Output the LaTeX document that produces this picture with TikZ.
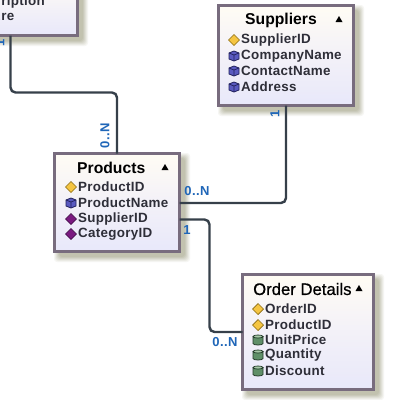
\documentclass[tikz,border=0pt]{standalone}
\usepackage{fontspec}
\setmainfont{Liberation Sans}
\newfontfamily\rowfont[LetterSpace=2.2]{Liberation Sans Bold}
\newfontfamily\labfont[LetterSpace=3]{Liberation Sans Bold}
\newfontfamily\titlefont{Liberation Sans Bold}
\newfontfamily\semifont[FakeBold=0.5]{Liberation Sans}
\definecolor{frame}{HTML}{786C7E}
\definecolor{wire}{HTML}{36404A}
\definecolor{labelblue}{HTML}{1F66B8}
\definecolor{rowink}{HTML}{2E2E38}
\definecolor{shadowtan}{HTML}{A8A88C}
\definecolor{boxtop}{HTML}{FFFCF4}
\definecolor{boxmid}{HTML}{F3F1F8}
\definecolor{boxbot}{HTML}{E8E8FA}
\definecolor{goldfill}{HTML}{F5C542}
\definecolor{golddraw}{HTML}{8A6A10}
\definecolor{plumfill}{HTML}{7A1A80}
\definecolor{plumdraw}{HTML}{3A0A40}
\definecolor{cubefill}{HTML}{5A5AC0}
\definecolor{cubedraw}{HTML}{20205A}
\definecolor{drumfill}{HTML}{5F8F68}
\definecolor{drumtop}{HTML}{A8C8A8}
\definecolor{drumdraw}{HTML}{243A2A}
\newcommand{\softshadow}[4]{%
  \foreach \s/\o in {4/.10,3/.12,2/.15,1/.18,0/.22,-1/.25}
    \fill[shadowtan,opacity=\o,rounded corners=3pt]
      (#1+5-\s,#2+5-\s) rectangle (#3+5+\s,#4+5+\s);}
\newcommand{\uptri}[2]{\fill[black] (#1-3.5,#2+3) -- (#1+3.5,#2+3) -- (#1,#2-3) -- cycle;}
\tikzset{
  x=1pt,y=-1pt,
  erbox/.style={draw=frame,line width=3pt,rectangle,anchor=north west,inner sep=0pt,outer sep=0pt,
    top color=boxtop,bottom color=boxbot,middle color=boxmid},
  titletext/.style={font=\titlefont\fontsize{15.7}{16}\selectfont,text=black,inner sep=0pt,anchor=west},
  semititle/.style={font=\semifont\fontsize{16.7}{17}\selectfont,text=black,inner sep=0pt,anchor=west},
  rowtext/.style={font=\rowfont\fontsize{13.4}{14}\selectfont,text=rowink,inner sep=0pt,anchor=west},
  cardlabel/.style={font=\labfont\fontsize{13}{14}\selectfont,text=labelblue,inner sep=0pt},
  wirepath/.style={draw=wire,line width=2.4pt,rounded corners=5pt},
  pics/pkicon/.style={code={\draw[fill=goldfill,draw=golddraw,line width=.7pt]
     (-5.5,0)--(0,-5.5)--(5.5,0)--(0,5.5)--cycle;}},
  pics/fkicon/.style={code={\draw[fill=plumfill,draw=plumdraw,line width=.7pt]
     (-5.5,0)--(0,-5.5)--(5.5,0)--(0,5.5)--cycle;}},
  pics/cubeicon/.style={code={
     \draw[fill=cubefill,draw=cubedraw,line width=.8pt]
       (-5,-3)--(0,-5)--(5,-3)--(5,3)--(0,5)--(-5,3)--cycle;
     \draw[draw=cubedraw,line width=.7pt] (-5,-3)--(0,-1)--(5,-3) (0,-1)--(0,5);}},
  pics/drumicon/.style={code={
     \draw[fill=drumfill,draw=drumdraw,line width=.8pt]
       (-5,-3.5)--(-5,3.5) arc[start angle=180,end angle=360,x radius=5,y radius=-1.5]
       --(5,-3.5) arc[start angle=0,end angle=360,x radius=5,y radius=-1.5]--cycle;
     \fill[drumtop] (0,-3.5) ellipse[x radius=4,y radius=1];}},
}
\begin{document}
\begin{tikzpicture}
\useasboundingbox (0,0) rectangle (400,400);
\clip (0,0) rectangle (400,400);
\fill[white] (0,0) rectangle (400,400);
% shadows
\softshadow{-60}{-20}{79}{37}
\softshadow{217}{4}{355}{107}
\softshadow{53}{152}{181}{253}
\softshadow{241}{273}{375}{391}
% boxes
\node[erbox,minimum width=134pt,minimum height=54pt] (topbox) at (-56.5,-18.5) {};
\node[erbox,minimum width=135pt,minimum height=100pt] (suppliers) at (218.5,5.5) {};
\node[erbox,minimum width=125pt,minimum height=98pt] (products) at (54.5,153.5) {};
\node[erbox,minimum width=131pt,minimum height=115pt] (details) at (242.5,274.5) {};
% top-left box rows, cut by the picture edge
\node[rowtext,anchor=east] (toprowa) at (45,2) {ription};
\node[rowtext,anchor=east] (toprowb) at (14.5,17) {ure};
% suppliers
\node[titletext] (suptitle) at (245,20) {Suppliers};
\uptri{339}{19}
\pic at (234,40) {pkicon};
\node[rowtext] (supid) at (241,40) {SupplierID};
\pic at (234,56) {cubeicon};
\node[rowtext] (supname) at (241,56) {CompanyName};
\pic at (234,71) {cubeicon};
\node[rowtext] (supcontact) at (241,71) {ContactName};
\pic at (234,87) {cubeicon};
\node[rowtext] (supaddr) at (241,87) {Address};
% products
\node[titletext] (prodtitle) at (77,168) {Products};
\uptri{165}{167}
\pic at (71,187) {pkicon};
\node[rowtext] (prodid) at (78,187) {ProductID};
\pic at (71,203) {cubeicon};
\node[rowtext] (prodname) at (78,203) {ProductName};
\pic at (71,219) {fkicon};
\node[rowtext] (prodsup) at (78,219.5) {SupplierID};
\pic at (71,234) {fkicon};
\node[rowtext] (prodcat) at (78,234) {CategoryID};
% order details
\node[semititle] (dettitle) at (253,289) {Order Details};
\uptri{359}{288}
\pic at (258,309) {pkicon};
\node[rowtext] (detorder) at (265,309) {OrderID};
\pic at (258,325) {pkicon};
\node[rowtext] (detprod) at (265,325) {ProductID};
\pic at (258,340) {drumicon};
\node[rowtext] (detprice) at (265,340) {UnitPrice};
\pic at (258,355) {drumicon};
\node[rowtext] (detqty) at (265,355) {Quantity};
\pic at (258,371) {drumicon};
\node[rowtext] (detdisc) at (265,371) {Discount};
% connectors
\draw[wirepath] (topbox.south) -- ++(0,57) -| (products.north);
\draw[wirepath] (products.east |- prodname) -| (suppliers.south);
\draw[wirepath] (products.east |- prodsup) -- ++(30,0) |- (details.west);
% cardinality labels
\node[cardlabel,rotate=90] (cardb) at (105,136) {0..N};
\node[cardlabel,rotate=90] (carda) at (0,43) {1};
\node[cardlabel,rotate=90] (cardc) at (275,114) {1};
\node[cardlabel] (cardd) at (197,191) {0..N};
\node[cardlabel] (carde) at (187,230) {1};
\node[cardlabel] (cardf) at (225,342) {0..N};
\end{tikzpicture}
\end{document}
